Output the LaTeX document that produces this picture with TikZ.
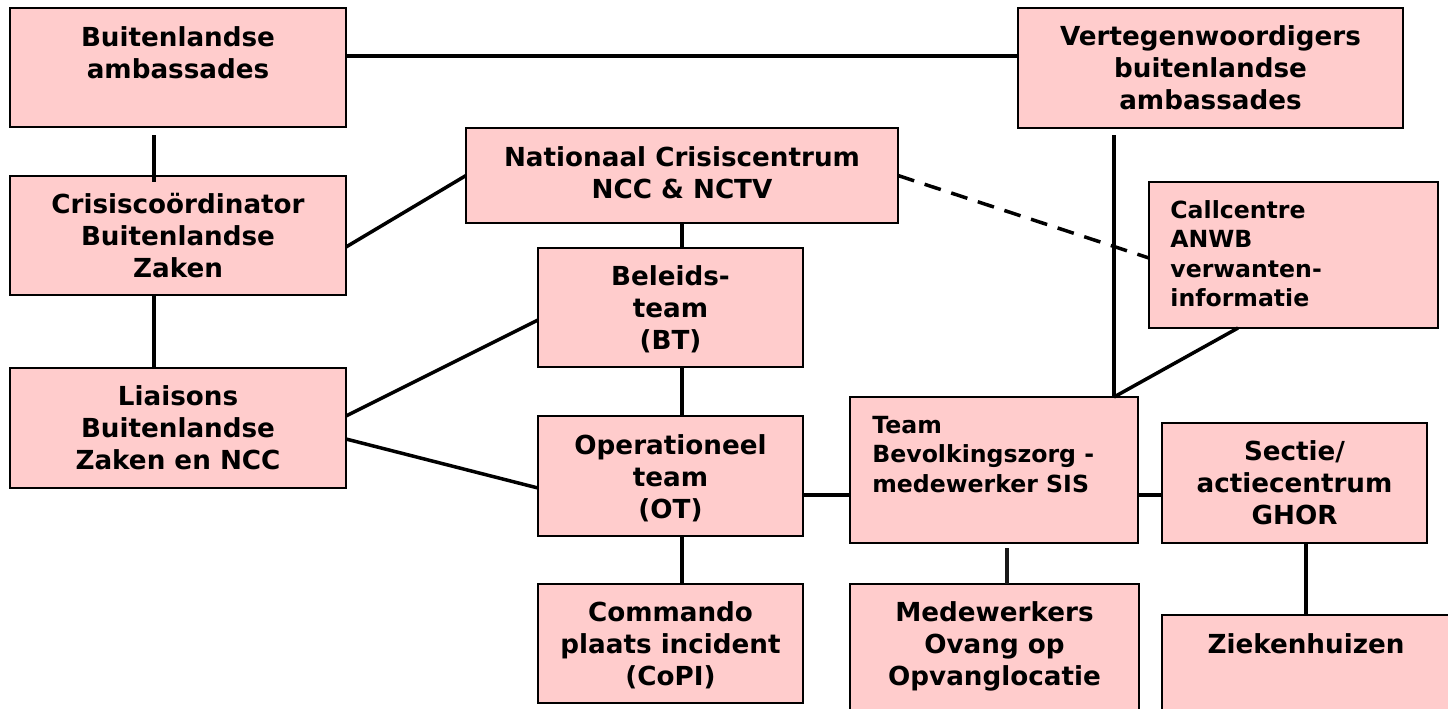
\documentclass[tikz,border=0pt]{standalone}
\usepackage{fontspec}
\setmainfont{DejaVu Sans}
\usetikzlibrary{calc}
\definecolor{boxfill}{RGB}{255,204,204}
\tikzset{
  box/.style={draw=black, fill=boxfill, line width=1.35pt, inner sep=0pt, outer sep=0pt, rectangle},
  lbl/.style={inner sep=0pt, align=center, anchor=north, font=\bfseries\fontsize{13.1pt}{16pt}\selectfont},
  lbll/.style={inner sep=0pt, align=left, anchor=north west, font=\bfseries\fontsize{11.8pt}{14.75pt}\selectfont},
  conn/.style={line width=1.75pt, black},
  dconn/.style={conn, dash pattern=on 8.5pt off 5.5pt},
  thickconn/.style={line width=2.4pt, black!90},
}
\begin{document}
\begin{tikzpicture}[x=0.5pt,y=-0.5pt]
\useasboundingbox (0,0) rectangle (1448,708);
\clip (0,0) rectangle (1448,708);
% boxes
\node[box, minimum width=168pt, minimum height=59.5pt] (BA) at (178,67.5) {};
\node[box, minimum width=168pt, minimum height=59.5pt] (CBZ) at (178,235.5) {};
\node[box, minimum width=168pt, minimum height=60pt] (LBZ) at (178,428) {};
\node[box, minimum width=216pt, minimum height=47.5pt] (NCC) at (682,175.5) {};
\node[box, minimum width=132.5pt, minimum height=59.5pt] (BT) at (670.5,307.5) {};
\node[box, minimum width=132.5pt, minimum height=60pt] (OT) at (670.5,476) {};
\node[box, minimum width=132.5pt, minimum height=59.5pt] (CoPI) at (670.5,643.5) {};
\node[box, minimum width=192.5pt, minimum height=60pt] (VBA) at (1210.5,68) {};
\node[box, minimum width=144.5pt, minimum height=73pt] (CC) at (1293.5,255) {};
\node[box, minimum width=144pt, minimum height=73pt] (TB) at (994,470) {};
\node[box, minimum width=144.5pt, minimum height=66pt] (MW) at (994.5,650) {};
\node[box, minimum width=132.5pt, minimum height=60pt] (SG) at (1294.5,483) {};
\node[box, minimum width=144pt, minimum height=50.5pt] (ZH) at (1306,665.5) {};
% connectors
\draw[conn] ([yshift=5.75pt]BA.east) -- ([yshift=5.75pt]BA.east -| VBA.west);
\draw[conn] ([xshift=-12pt,yshift=-4pt]BA.south) -- ([xshift=-12pt,yshift=-3pt]CBZ.north);
\draw[conn] ([xshift=-12pt]CBZ.south) -- ([xshift=-12pt]LBZ.north);
\draw[conn] ([yshift=-5.75pt]CBZ.east) -- (NCC.west);
\draw[conn] ([yshift=6pt]LBZ.east) -- ([yshift=-6.25pt]BT.west);
\draw[conn] ([yshift=-5.5pt]LBZ.east) -- ([yshift=-6pt]OT.west);
\draw[conn] (NCC.south) -- (NCC.south |- BT.north);
\draw[conn] (NCC.south |- BT.south) -- (NCC.south |- OT.north);
\draw[conn] (NCC.south |- OT.south) -- (NCC.south |- CoPI.north);
\draw[conn] ([yshift=-9.5pt]OT.east) -- ([yshift=-9.5pt]OT.east -| TB.west);
\draw[conn] ([yshift=-9.5pt]OT.east -| TB.east) -- ([yshift=-9.5pt]OT.east -| SG.west);
\draw[conn] ([xshift=-48.25pt,yshift=-3.5pt]VBA.south) -- ([xshift=-48.25pt]VBA.south |- TB.north);
\draw[conn] ([xshift=-27.75pt]CC.south) -- ([xshift=-48.25pt]VBA.south |- TB.north);
\draw[dconn] (NCC.east) -- ([yshift=-1.5pt]CC.west);
\draw[thickconn] ([xshift=6.5pt,yshift=-2.5pt]TB.south) -- ([xshift=6.5pt]TB.south |- MW.north);
\draw[conn] (ZH.north |- SG.south) -- (ZH.north);
% labels
\node[lbl] (BAt) at ([yshift=-9pt]BA.north) {Buitenlandse\\ambassades};
\node[lbl] (CBZt) at ([yshift=-8.6pt]CBZ.north) {Crisiscoördinator\\Buitenlandse\\Zaken};
\node[lbl] (LBZt) at ([yshift=-8.6pt]LBZ.north) {Liaisons\\Buitenlandse\\Zaken en NCC};
\node[lbl] (NCCt) at ([yshift=-9pt]NCC.north) {Nationaal Crisiscentrum\\NCC \& NCTV};
\node[lbl] (BTt) at ([yshift=-8.6pt]BT.north) {Beleids-\\team\\(BT)};
\node[lbl] (OTt) at ([yshift=-9pt]OT.north) {Operationeel\\team\\(OT)};
\node[lbl] (CoPIt) at ([yshift=-8.6pt]CoPI.north) {Commando\\plaats incident\\(CoPI)};
\node[lbl] (VBAt) at ([yshift=-8.6pt]VBA.north) {Vertegenwoordigers\\buitenlandse\\ambassades};
\node[lbll] (CCt) at ([xshift=10.5pt,yshift=-9pt]CC.north west) {Callcentre\\ANWB\\verwanten-\\informatie};
\node[lbll] (TBt) at ([xshift=11pt,yshift=-9.4pt]TB.north west) {Team\\Bevolkingszorg -\\medewerker SIS};
\node[lbl] (MWt) at ([yshift=-8.6pt]MW.north) {Medewerkers\\Ovang op\\Opvanglocatie};
\node[lbl] (SGt) at ([yshift=-8.6pt]SG.north) {Sectie/\\actiecentrum\\GHOR};
\node[lbl] (ZHt) at ([yshift=-9pt]ZH.north) {Ziekenhuizen};
\end{tikzpicture}
\end{document}
